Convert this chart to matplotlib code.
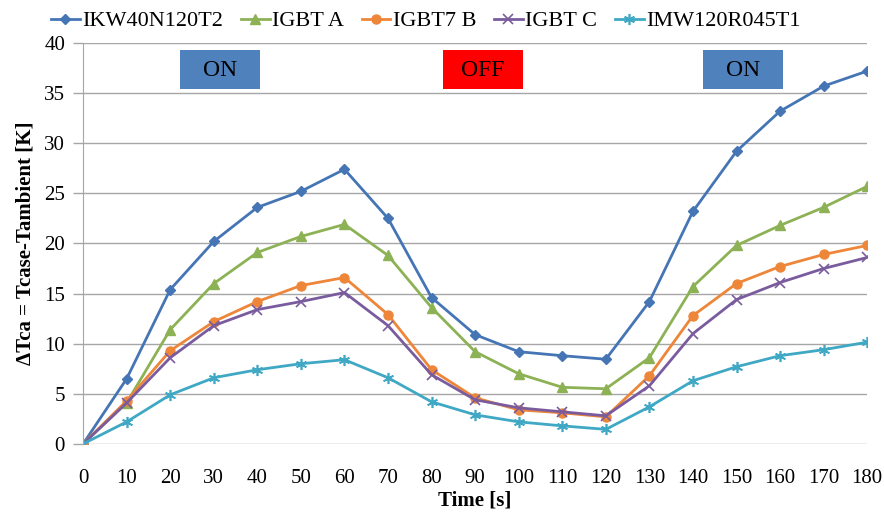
import matplotlib
matplotlib.use('Agg')
import matplotlib.pyplot as plt
from matplotlib.patches import Rectangle

plt.rcParams['font.family'] = ['Liberation Serif', 'DejaVu Serif']

# time axis [s]
time = [0, 10, 20, 30, 40, 50, 60, 70, 80, 90, 100, 110, 120, 130, 140, 150, 160, 170, 180]

# case-ambient temperature rise [K]
ikw40n120t2 = [0, 6.5, 15.4, 20.2, 23.6, 25.2, 27.4, 22.5, 14.6, 10.9, 9.2, 8.8, 8.45,
               14.2, 23.2, 29.2, 33.2, 35.7, 37.2]
igbt_a = [0, 4.1, 11.4, 16.0, 19.1, 20.7, 21.9, 18.8, 13.6, 9.2, 7.0, 5.65, 5.5,
          8.6, 15.7, 19.8, 21.8, 23.6, 25.7]
igbt7_b = [0, 4.3, 9.3, 12.2, 14.2, 15.8, 16.6, 12.9, 7.4, 4.6, 3.4, 3.1, 2.7,
           6.8, 12.8, 16.0, 17.7, 18.9, 19.8]
igbt_c = [0, 4.1, 8.6, 11.8, 13.4, 14.2, 15.1, 11.8, 6.9, 4.4, 3.6, 3.2, 2.8,
          5.8, 11.0, 14.4, 16.1, 17.5, 18.6]
imw120r045t1 = [0, 2.2, 4.9, 6.6, 7.4, 8.0, 8.4, 6.6, 4.2, 2.9, 2.2, 1.8, 1.45,
                3.7, 6.3, 7.7, 8.8, 9.4, 10.15]

labels = ['IKW40N120T2', 'IGBT A', 'IGBT7 B', 'IGBT C', 'IMW120R045T1']

# phase boxes: label, centre time, colour
phases = [('ON', 31.5, '#4F81BD'), ('OFF', 91.8, '#FF0000'), ('ON', 151.5, '#4F81BD')]

fig = plt.figure(figsize=(8.84, 5.12), dpi=100)
ax = fig.add_axes([0.094, 0.133, 0.887, 0.783])

ax.plot(time, ikw40n120t2, color='#4575B4', lw=2, marker='D', ms=5, label=labels[0])
ax.plot(time, igbt_a, color='#8DB255', lw=2, marker='^', ms=7, label=labels[1])
ax.plot(time, igbt7_b, color='#EE8639', lw=2, marker='o', ms=6.5, label=labels[2])
ax.plot(time, igbt_c, color='#7A5C9E', lw=2, marker='x', ms=7, mew=1.2, label=labels[3])
ax.plot(time, imw120r045t1, color='#3FA8C4', lw=2, marker=(6, 2, 0), ms=8, mew=1.2,
        label=labels[4])

for txt, xc, col in phases:
    ax.add_patch(Rectangle((xc - 9.2, 35.4), 18.4, 3.9, facecolor=col, edgecolor='none',
                           zorder=3))
    ax.text(xc, 37.3, txt, ha='center', va='center', fontsize=17, zorder=4)

ax.set_xlim(0, 180)
ax.set_ylim(0, 40)
ax.set_xticks(time)
ax.set_xticks([0, 60, 120, 180], minor=True)
ax.set_yticks(range(0, 41, 5))
ax.tick_params(axis='x', which='major', length=0, pad=18, labelsize=15)
ax.tick_params(axis='x', which='minor', length=8, color='#A6A6A6', width=1)
ax.tick_params(axis='y', length=7, color='#A6A6A6', width=1, labelsize=15, pad=6)
ax.grid(True, axis='y', color='#A6A6A6', lw=1)
ax.grid(True, axis='x', which='minor', color='#A6A6A6', lw=1)
ax.set_axisbelow(True)
for s in ['top', 'right', 'bottom']:
    ax.spines[s].set_visible(False)
ax.spines['left'].set_color('#A6A6A6')

ax.set_xlabel('Time [s]', fontsize=15, fontweight='bold', labelpad=2)
ax.set_ylabel('ΔTca = Tcase-Tambient [K]', fontsize=15, fontweight='bold', labelpad=6)

fig.legend(loc='upper left', bbox_to_anchor=(0.035, 1.018), ncol=5, frameon=False,
           fontsize=16, handlelength=1.3, handletextpad=0.1, columnspacing=0.8)

fig.savefig('out.png', dpi=100)
